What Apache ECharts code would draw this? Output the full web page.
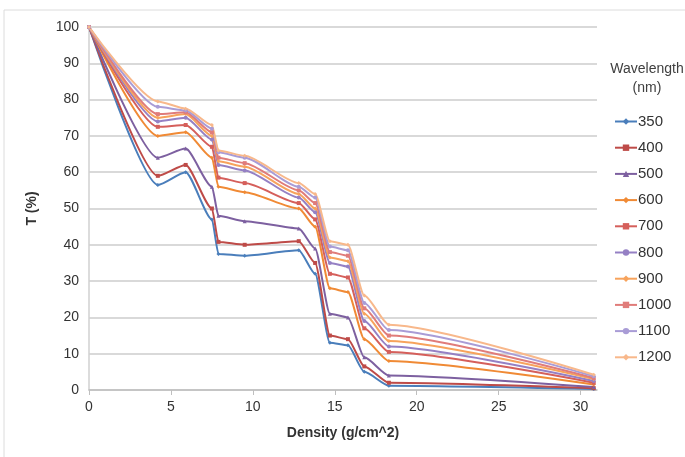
<!DOCTYPE html>
<html>
<head>
<meta charset="utf-8">
<script src="https://cdn.jsdelivr.net/npm/echarts@6/dist/echarts.min.js"></script>
<style>html,body{margin:0;padding:0;background:#fff}#c{width:685px;height:457px}</style>
</head>
<body>
<div id="c"></div>
<script>
var density = [0, 4.2, 5.9, 7.5, 7.9, 9.5, 12.8, 13.8, 14.7, 15.8, 16.8, 18.3, 30.8];
var wavelengths = ['350','400','500','600','700','800','900','1000','1100','1200'];
var t350  = [100, 56.5, 60, 47, 37.5, 37, 38.5, 32, 13, 12.3, 5, 1.2, 0.3];
var t400  = [100, 59, 62, 50, 40.8, 40, 41, 35, 15, 14, 6.5, 2, 0.5];
var t500  = [100, 64, 66.5, 56, 48, 46.5, 44.5, 39, 21, 20, 9, 4, 0.8];
var t600  = [100, 70, 71, 64, 56, 54.5, 50, 45, 28, 27, 14, 8, 1.5];
var t700  = [100, 72.5, 73, 67, 58.5, 57, 51.5, 47, 32, 31, 17, 10.5, 2];
var t800  = [100, 74, 75, 69, 62, 60.5, 53, 49, 35, 34, 19, 12, 2.5];
var t900  = [100, 75, 76, 70, 63, 61.5, 54, 50, 36.5, 35.5, 21, 13.5, 3];
var t1000 = [100, 76, 76.5, 71, 64, 62.5, 55, 51.5, 38, 37, 22.5, 15, 3.3];
var t1100 = [100, 78, 77, 72, 65.5, 64, 56, 53, 39.5, 38.5, 24, 16.5, 3.8];
var t1200 = [100, 79.5, 77.5, 73, 66, 64.5, 57, 54, 41, 40, 26, 18, 4.2];
var xTicks = [0, 5, 10, 15, 20, 25, 30];

var allT = [t350, t400, t500, t600, t700, t800, t900, t1000, t1100, t1200];
var colors = ['#4a7ebb','#be4b48','#7d60a0','#f08a35','#d55f5b','#9580c4','#f7a35c','#e07c7a','#a99cd6','#f8b88b'];
var symbols = ['diamond','rect','triangle','diamond','rect','circle','diamond','rect','circle','diamond'];

var series = wavelengths.map(function (w, i) {
  return {
    name: w,
    type: 'line',
    smooth: 0.22,
    smoothMonotone: 'x',
    symbol: symbols[i],
    symbolSize: 4,
    showSymbol: true,
    lineStyle: {color: colors[i], width: 2},
    itemStyle: {color: colors[i]},
    data: density.map(function (x, j) { return [x, allT[i][j]]; })
  };
});

var chart = echarts.init(document.getElementById('c'));
chart.setOption({
  animation: false,
  backgroundColor: '#fff',
  textStyle: {fontFamily: 'Liberation Sans, Arial, sans-serif'},
  title: {
    text: 'Wavelength\n(nm)',
    left: 642, top: 55, textAlign: 'center',
    textStyle: {fontSize: 14, fontWeight: 'normal', color: '#404040', lineHeight: 19, align: 'center'}
  },
  graphic: [{
    type: 'rect', shape: {x: 4, y: 10, width: 700, height: 460},
    style: {fill: 'none', stroke: '#dcdcdc', lineWidth: 1}, silent: true
  }],
  legend: {
    orient: 'vertical', left: 609, top: 109,
    itemGap: 11.2, itemWidth: 22, itemHeight: 8,
    textStyle: {fontSize: 15, color: '#333', padding: [0, 0, 0, -4]},
    data: wavelengths
  },
  grid: {left: 89, right: 88, top: 27, bottom: 67, containLabel: false},
  xAxis: {
    type: 'value', min: 0, max: 31,
    name: 'Density (g/cm^2)', nameLocation: 'middle', nameGap: 36,
    nameTextStyle: {fontSize: 14, fontWeight: 'bold', color: '#333'},
    axisLine: {show: true, lineStyle: {color: '#bfbfbf', width: 1.5}},
    axisTick: {show: true, length: 5, lineStyle: {color: '#bfbfbf'}, customValues: xTicks},
    axisLabel: {fontSize: 14, color: '#333', margin: 10, customValues: xTicks},
    splitLine: {show: false}
  },
  yAxis: {
    type: 'value', min: 0, max: 100, interval: 10,
    name: 'T (%)', nameLocation: 'middle', nameGap: 50, nameRotate: 90,
    nameTextStyle: {fontSize: 14, fontWeight: 'bold', color: '#333'},
    axisLine: {show: true, lineStyle: {color: '#d0d0d0', width: 1.5}},
    axisTick: {show: false},
    axisLabel: {fontSize: 14, color: '#333', margin: 10},
    splitLine: {show: true, lineStyle: {color: '#d9d9d9', width: 2}}
  },
  series: series
});
</script>
</body>
</html>
